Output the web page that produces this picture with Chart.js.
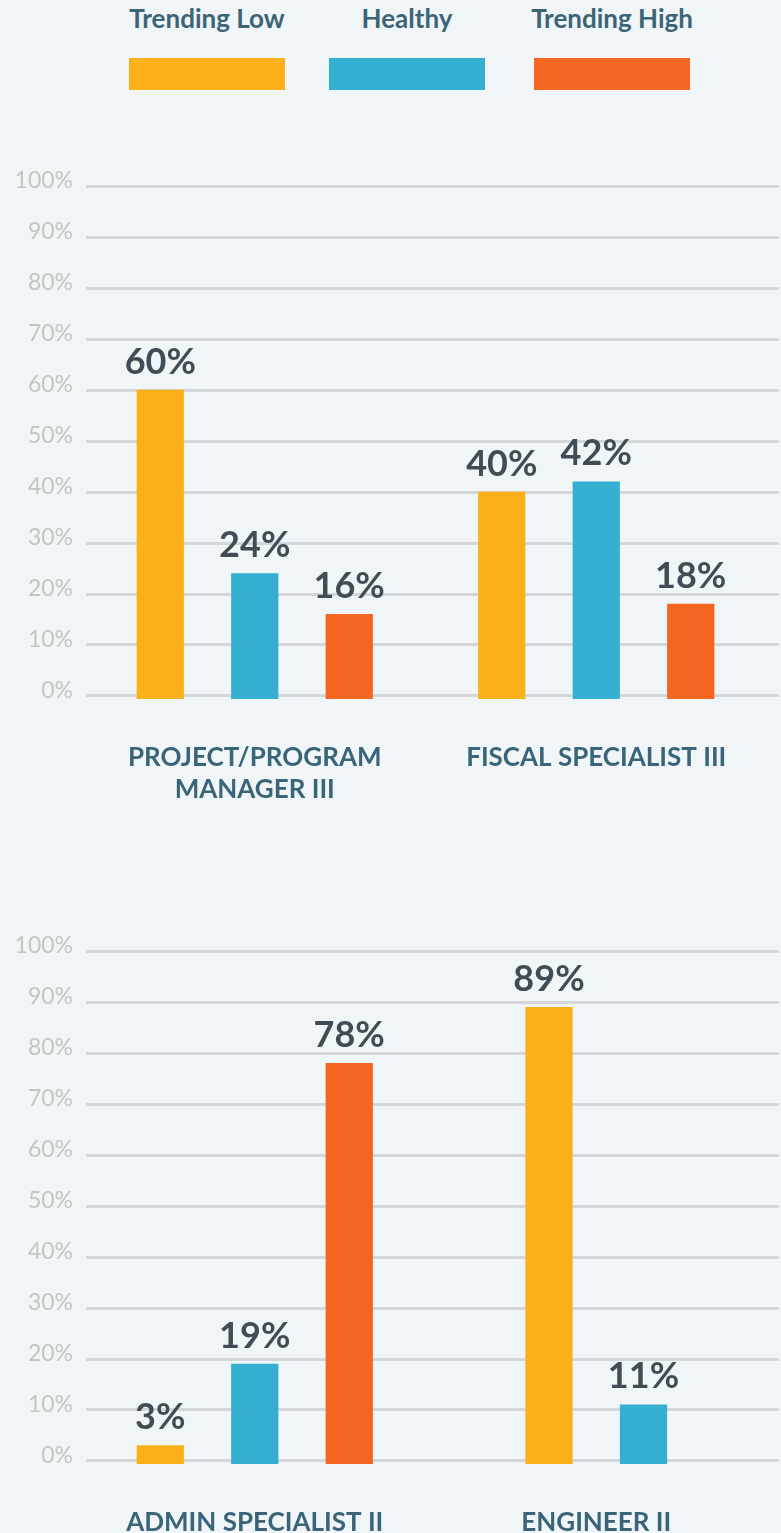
<!DOCTYPE html>
<html>
<head>
<meta charset="utf-8">
<script src="https://cdn.jsdelivr.net/npm/chart.js@4.4.1/dist/chart.umd.min.js"></script>
<style>
  html, body { margin: 0; padding: 0; background: #f0f5f8; overflow: hidden; }
  body { width: 781px; height: 1533px; position: relative; font-family: Lato, sans-serif; }
  #legend { position: absolute; top: 0; left: 129px; display: flex; gap: 44px; }
  .item { width: 156px; display: flex; flex-direction: column; align-items: center; }
  .item:nth-child(3) { margin-left: 5px; }
  .item span { display: block; margin-top: 3px; font-size: 26px; line-height: 1.2; font-weight: bold; color: #3b6477; white-space: nowrap; }
  .item i { display: block; width: 156px; height: 32px; margin-top: 24px; }
  canvas { position: absolute; left: 0; }
  #chartTop { top: 150px; }
  #chartBottom { top: 915px; }
</style>
</head>
<body>
<div id="legend"></div>
<canvas id="chartTop" width="781" height="669"></canvas>
<canvas id="chartBottom" width="781" height="669"></canvas>
<script>
const seriesNames = ['Trending Low', 'Healthy', 'Trending High'];

const categoriesTop = [['PROJECT/PROGRAM', 'MANAGER III'], 'FISCAL SPECIALIST III'];
const lowTop = [60, 40];
const healthyTop = [24, 42];
const highTop = [16, 18];

const categoriesBottom = ['ADMIN SPECIALIST II', 'ENGINEER II'];
const lowBottom = [3, 89];
const healthyBottom = [19, 11];
const highBottom = [78, null];

const yTicks = [0, 10, 20, 30, 40, 50, 60, 70, 80, 90, 100];

// styling
const seriesColors = ['#fbb01a', '#34aed1', '#f46522'];
const slotShare = 0.2767;   // one bar slot as a share of the category width
const axisFloor = -0.7;     // bars hang a little below the 0% line

// legend: label above a colour block
const legend = document.getElementById('legend');
seriesNames.forEach((name, k) => {
    const item = document.createElement('div');
    item.className = 'item';
    item.innerHTML = '<span>' + name + '</span><i style="background:' + seriesColors[k] + '"></i>';
    legend.appendChild(item);
});

// one dataset per (series, category) so that groups with a missing bar stay centred
function buildDatasets(series) {
    const sets = [];
    const count = series[0].length;
    for (let c = 0; c < count; c++) {
        const present = series.filter(s => s[c] != null).length;
        series.forEach((s, k) => {
            if (s[c] == null) return;
            sets.push({
                label: seriesNames[k],
                data: s.map((v, i) => (i === c ? v : null)),
                backgroundColor: seriesColors[k],
                categoryPercentage: slotShare * present,
                barPercentage: 0.5,
                base: axisFloor,
                skipNull: true
            });
        });
    }
    return sets;
}

const gridPlugin = {
    id: 'gridLines',
    beforeDatasetsDraw(chart) {
        const { ctx, chartArea, scales: { y } } = chart;
        ctx.save();
        ctx.strokeStyle = '#d5d6da';
        ctx.lineWidth = 3;
        y.ticks.forEach(t => {
            const py = Math.round(y.getPixelForValue(t.value)) + 0.5;
            ctx.beginPath();
            ctx.moveTo(chartArea.left + 2, py);
            ctx.lineTo(chart.width - 2, py);
            ctx.stroke();
        });
        ctx.restore();
    }
};

const valuePlugin = {
    id: 'valueLabels',
    afterDatasetsDraw(chart) {
        const { ctx } = chart;
        ctx.save();
        ctx.font = 'bold 36px Lato';
        ctx.fillStyle = '#414d56';
        ctx.textAlign = 'center';
        ctx.textBaseline = 'alphabetic';
        chart.data.datasets.forEach((ds, i) => {
            chart.getDatasetMeta(i).data.forEach((bar, j) => {
                const v = ds.data[j];
                if (v == null) return;
                ctx.fillText(v + '%', bar.x, bar.y - 16);
            });
        });
        ctx.restore();
    }
};

function drawChart(canvasId, labels, series) {
    return new Chart(document.getElementById(canvasId), {
        type: 'bar',
        data: { labels, datasets: buildDatasets(series) },
        options: {
            responsive: false,
            animation: false,
            layout: { padding: { top: 36, right: 14, left: 0, bottom: 0 } },
            plugins: { legend: { display: false }, tooltip: { enabled: false } },
            scales: {
                x: {
                    grid: { display: false, drawTicks: false },
                    border: { display: false },
                    ticks: {
                        padding: 42,
                        color: '#3a6478',
                        maxRotation: 0,
                        autoSkip: false,
                        font: { family: 'Lato', size: 26, weight: 'bold', lineHeight: 1.24 }
                    },
                    afterFit: s => { s.height = 120; }
                },
                y: {
                    min: axisFloor,
                    max: 100,
                    grid: { display: false, drawTicks: false },
                    border: { display: false },
                    afterBuildTicks: s => { s.ticks = yTicks.map(v => ({ value: v })); },
                    ticks: {
                        padding: 11,
                        labelOffset: -5,
                        color: '#c6c4c1',
                        font: { family: 'Lato', size: 23 },
                        callback: v => v + '%'
                    },
                    afterFit: s => { s.width = 84; }
                }
            }
        },
        plugins: [gridPlugin, valuePlugin]
    });
}

drawChart('chartTop', categoriesTop, [lowTop, healthyTop, highTop]);
drawChart('chartBottom', categoriesBottom, [lowBottom, healthyBottom, highBottom]);
</script>
</body>
</html>
